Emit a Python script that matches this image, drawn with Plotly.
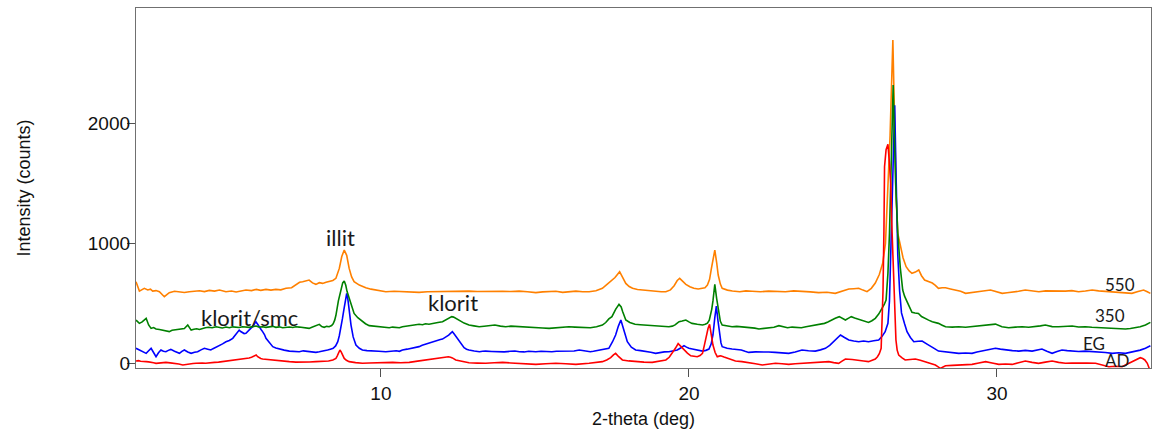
import plotly.graph_objects as go

# --- data (2-theta in deg, intensity in counts) ---
s550 = [(2.05,680),(2.16,602),(2.32,625),(2.43,611),(2.52,618),(2.59,602),(2.70,606),(2.81,597),(2.97,555),(3.05,575),(3.13,589),(3.30,600),(3.46,597),(3.62,590),(3.78,597),(3.95,602),(4.11,605),(4.27,598),(4.43,608),(4.60,602),(4.76,611),(4.97,597),(5.15,603),(5.30,594),(5.46,600),(5.62,611),(5.80,606),(5.95,616),(6.10,608),(6.27,616),(6.43,610),(6.59,616),(6.75,612),(6.92,625),(7.10,630),(7.24,652),(7.36,675),(7.46,680),(7.57,690),(7.67,694),(7.78,670),(7.89,658),(8.00,672),(8.11,666),(8.22,676),(8.32,680),(8.44,690),(8.54,708),(8.65,791),(8.73,890),(8.81,944),(8.89,900),(8.97,791),(9.05,720),(9.13,680),(9.30,652),(9.40,640),(9.51,630),(9.68,618),(9.84,611),(10.00,604),(10.16,597),(10.43,600),(10.70,597),(10.97,594),(11.24,591),(11.51,596),(11.78,597),(12.05,600),(12.32,597),(12.59,604),(12.86,602),(13.13,598),(13.40,600),(13.68,596),(13.95,600),(14.22,598),(14.49,602),(14.76,596),(15.03,589),(15.25,595),(15.46,597),(15.68,600),(15.90,591),(16.11,598),(16.33,602),(16.55,596),(16.76,597),(16.98,605),(17.19,625),(17.35,660),(17.46,686),(17.60,715),(17.75,764),(17.85,720),(17.95,666),(18.06,640),(18.17,625),(18.33,615),(18.49,611),(18.70,604),(18.92,602),(19.10,596),(19.25,597),(19.40,612),(19.52,647),(19.62,690),(19.70,708),(19.80,680),(19.90,658),(20.03,638),(20.16,625),(20.30,620),(20.44,625),(20.52,630),(20.60,652),(20.67,700),(20.73,791),(20.79,890),(20.84,944),(20.90,840),(20.95,736),(21.02,660),(21.08,625),(21.25,610),(21.41,602),(21.65,597),(21.85,604),(22.05,600),(22.32,596),(22.59,602),(22.86,598),(23.13,597),(23.40,604),(23.67,602),(23.94,595),(24.21,589),(24.48,592),(24.75,583),(24.97,600),(25.19,619),(25.35,622),(25.51,625),(25.65,610),(25.78,597),(25.92,625),(26.05,669),(26.18,740),(26.29,835),(26.38,1000),(26.45,1361),(26.53,1900),(26.62,2694),(26.68,2000),(26.73,1361),(26.78,1083),(26.86,986),(26.95,880),(27.05,805),(27.15,770),(27.24,750),(27.35,760),(27.46,778),(27.55,730),(27.65,694),(27.78,680),(27.90,669),(28.00,650),(28.10,625),(28.22,630),(28.33,630),(28.49,620),(28.65,611),(28.82,600),(28.98,583),(29.14,590),(29.30,597),(29.55,603),(29.79,611),(29.98,595),(30.17,583),(30.33,588),(30.49,591),(30.70,600),(30.92,611),(31.14,602),(31.36,597),(31.58,604),(31.79,602),(32.00,598),(32.22,602),(32.43,606),(32.65,597),(32.87,602),(33.09,611),(33.30,604),(33.52,600),(33.74,596),(33.95,597),(34.17,592),(34.38,583),(34.58,598),(34.76,611),(34.88,596),(34.98,583)]

s350 = [(2.05,361),(2.16,333),(2.25,345),(2.38,375),(2.46,320),(2.54,291),(2.62,298),(2.70,286),(2.81,282),(2.92,277),(3.02,272),(3.13,264),(3.22,276),(3.30,280),(3.46,286),(3.62,290),(3.73,319),(3.84,277),(3.93,284),(4.02,288),(4.11,282),(4.21,291),(4.30,296),(4.40,300),(4.52,296),(4.65,305),(4.75,300),(4.85,295),(4.97,302),(5.08,297),(5.19,304),(5.30,302),(5.40,298),(5.51,305),(5.62,302),(5.73,300),(5.84,306),(5.95,311),(6.05,302),(6.16,305),(6.27,300),(6.38,305),(6.49,308),(6.59,300),(6.70,304),(6.81,297),(6.92,302),(7.03,303),(7.14,299),(7.24,305),(7.35,302),(7.46,298),(7.56,300),(7.67,291),(7.76,300),(7.85,310),(8.00,325),(8.08,306),(8.16,300),(8.24,308),(8.32,305),(8.40,315),(8.45,330),(8.50,360),(8.54,400),(8.62,520),(8.70,620),(8.76,670),(8.81,686),(8.86,650),(8.90,600),(8.97,541),(9.05,470),(9.13,416),(9.25,380),(9.40,347),(9.50,330),(9.62,314),(9.78,310),(9.95,305),(10.10,300),(10.27,297),(10.38,302),(10.50,300),(10.60,296),(10.70,305),(10.85,310),(11.00,315),(11.12,320),(11.24,325),(11.35,322),(11.45,330),(11.56,326),(11.67,333),(11.76,338),(11.85,340),(12.00,347),(12.08,358),(12.15,370),(12.22,380),(12.30,389),(12.36,385),(12.42,375),(12.54,361),(12.62,348),(12.70,335),(12.78,328),(12.86,319),(13.02,312),(13.19,305),(13.35,309),(13.50,312),(13.60,316),(13.70,319),(13.88,310),(14.05,305),(14.22,310),(14.40,308),(14.55,304),(14.70,300),(14.86,304),(15.03,297),(15.25,294),(15.46,291),(15.68,297),(15.90,300),(16.10,305),(16.30,302),(16.50,300),(16.65,304),(16.80,297),(17.00,305),(17.19,319),(17.30,340),(17.40,370),(17.50,389),(17.62,450),(17.73,491),(17.80,470),(17.85,430),(17.95,361),(18.08,340),(18.25,325),(18.42,322),(18.60,319),(18.75,316),(18.90,315),(19.12,310),(19.35,305),(19.46,310),(19.55,320),(19.62,335),(19.68,347),(19.78,352),(19.90,361),(20.00,345),(20.10,333),(20.27,325),(20.44,319),(20.53,325),(20.60,335),(20.66,360),(20.70,403),(20.74,450),(20.78,520),(20.84,658),(20.90,540),(20.96,430),(21.02,350),(21.08,319),(21.24,312),(21.40,305),(21.55,308),(21.70,305),(21.85,302),(22.00,300),(22.14,293),(22.27,286),(22.44,290),(22.60,295),(22.76,300),(22.92,314),(23.06,305),(23.20,297),(23.35,302),(23.50,300),(23.65,296),(23.80,305),(23.95,312),(24.10,325),(24.25,330),(24.40,333),(24.51,345),(24.62,361),(24.75,375),(24.88,389),(24.98,375),(25.08,361),(25.17,375),(25.27,389),(25.38,377),(25.51,366),(25.67,355),(25.83,341),(25.94,355),(26.05,375),(26.16,410),(26.27,458),(26.34,490),(26.40,527),(26.46,750),(26.51,1083),(26.57,1700),(26.63,2319),(26.67,1900),(26.71,1500),(26.78,1083),(26.86,800),(26.94,611),(27.00,560),(27.08,514),(27.16,470),(27.24,425),(27.34,420),(27.45,416),(27.55,390),(27.65,375),(27.78,360),(27.90,347),(28.00,340),(28.10,333),(28.22,318),(28.33,305),(28.55,302),(28.76,305),(28.98,300),(29.19,305),(29.35,310),(29.52,314),(29.74,320),(29.95,327),(30.16,305),(30.38,297),(30.60,302),(30.82,305),(31.03,300),(31.25,305),(31.41,312),(31.57,319),(31.79,306),(32.00,305),(32.22,308),(32.44,311),(32.65,303),(32.87,305),(33.08,300),(33.30,297),(33.52,295),(33.74,291),(33.95,288),(34.17,286),(34.33,290),(34.49,297),(34.65,305),(34.82,319),(34.98,341)]

sEG = [(2.05,125),(2.16,111),(2.25,95),(2.38,83),(2.46,105),(2.54,125),(2.62,90),(2.70,55),(2.78,88),(2.86,111),(2.94,100),(3.02,97),(3.10,108),(3.18,116),(3.30,100),(3.38,92),(3.46,83),(3.54,100),(3.62,111),(3.73,95),(3.84,83),(3.95,92),(4.05,97),(4.16,112),(4.27,125),(4.38,118),(4.48,111),(4.55,122),(4.62,130),(4.70,145),(4.76,152),(4.86,162),(4.97,180),(5.08,190),(5.19,208),(5.25,225),(5.30,240),(5.36,262),(5.40,277),(5.45,265),(5.50,255),(5.56,248),(5.62,250),(5.68,268),(5.73,280),(5.79,295),(5.84,305),(5.89,330),(5.94,347),(6.00,325),(6.05,300),(6.11,282),(6.16,264),(6.22,240),(6.27,208),(6.32,190),(6.38,170),(6.43,150),(6.49,139),(6.59,128),(6.70,119),(6.86,110),(7.03,102),(7.19,100),(7.35,97),(7.48,104),(7.60,100),(7.74,95),(7.89,91),(8.00,96),(8.10,100),(8.18,105),(8.27,111),(8.36,118),(8.45,125),(8.53,145),(8.60,180),(8.65,230),(8.70,291),(8.75,370),(8.80,450),(8.85,540),(8.89,583),(8.93,530),(8.96,450),(9.00,380),(9.03,319),(9.10,220),(9.19,152),(9.30,125),(9.40,111),(9.55,106),(9.70,102),(9.93,100),(10.16,97),(10.33,102),(10.50,105),(10.60,100),(10.70,111),(10.85,118),(11.00,125),(11.12,132),(11.24,139),(11.34,150),(11.45,160),(11.56,170),(11.67,180),(11.76,188),(11.85,195),(11.93,198),(12.00,202),(12.10,215),(12.20,235),(12.26,250),(12.32,264),(12.38,245),(12.45,220),(12.50,200),(12.54,180),(12.62,150),(12.70,130),(12.78,118),(12.86,111),(13.03,103),(13.20,97),(13.30,100),(13.40,102),(13.60,99),(13.80,97),(14.00,95),(14.20,100),(14.35,103),(14.50,97),(14.65,95),(14.80,100),(14.92,98),(15.03,97),(15.20,100),(15.40,97),(15.55,96),(15.70,100),(15.90,102),(16.10,105),(16.27,103),(16.44,111),(16.62,102),(16.80,97),(16.90,100),(17.00,105),(17.20,112),(17.40,125),(17.52,180),(17.62,236),(17.71,310),(17.79,361),(17.86,300),(17.92,250),(18.00,180),(18.13,135),(18.27,111),(18.43,106),(18.60,102),(18.76,92),(18.92,83),(19.06,90),(19.20,95),(19.35,97),(19.48,104),(19.62,111),(19.73,128),(19.84,147),(19.92,135),(20.00,125),(20.11,119),(20.27,110),(20.44,102),(20.55,108),(20.65,119),(20.72,160),(20.78,236),(20.84,380),(20.89,477),(20.94,360),(20.99,236),(21.04,170),(21.08,139),(21.24,125),(21.40,119),(21.55,115),(21.70,111),(21.82,100),(21.94,91),(22.16,95),(22.38,97),(22.59,94),(22.80,91),(23.02,88),(23.24,83),(23.45,95),(23.67,111),(23.88,105),(24.10,102),(24.27,112),(24.43,125),(24.57,150),(24.70,180),(24.81,210),(24.92,236),(25.05,215),(25.19,194),(25.35,186),(25.51,180),(25.67,186),(25.83,180),(26.00,188),(26.16,194),(26.27,225),(26.37,264),(26.46,333),(26.51,520),(26.55,900),(26.62,1600),(26.68,2150),(26.73,1500),(26.78,900),(26.84,600),(26.90,420),(27.00,330),(27.08,264),(27.19,215),(27.30,180),(27.44,184),(27.57,186),(27.73,160),(27.89,139),(28.00,118),(28.10,102),(28.22,99),(28.33,97),(28.55,90),(28.76,83),(28.98,86),(29.19,83),(29.35,95),(29.52,102),(29.74,115),(29.95,125),(30.11,118),(30.28,111),(30.50,106),(30.71,102),(30.92,108),(31.14,102),(31.30,110),(31.46,119),(31.62,100),(31.79,83),(31.95,98),(32.11,111),(32.28,106),(32.44,102),(32.65,98),(32.87,102),(33.08,100),(33.30,97),(33.52,90),(33.74,83),(33.95,88),(34.17,83),(34.33,90),(34.49,97),(34.65,110),(34.82,125),(34.98,147)]

sAD = [(2.05,19),(2.13,22),(2.20,17),(2.29,18),(2.38,14),(2.46,12),(2.55,10),(2.62,5),(2.70,0),(2.80,4),(2.90,5),(2.96,10),(3.02,8),(3.16,4),(3.30,0),(3.44,-6),(3.57,-14),(3.68,-8),(3.80,-5),(3.90,-2),(4.00,0),(4.10,4),(4.20,3),(4.31,0),(4.43,5),(4.52,6),(4.60,8),(4.73,10),(4.86,14),(4.98,17),(5.10,20),(5.20,24),(5.30,28),(5.46,34),(5.62,41),(5.72,45),(5.80,50),(5.88,58),(5.95,69),(6.00,55),(6.05,45),(6.10,40),(6.16,36),(6.38,32),(6.59,28),(6.81,20),(7.03,14),(7.24,10),(7.46,8),(7.68,11),(7.89,14),(8.10,17),(8.30,19),(8.44,28),(8.54,41),(8.58,60),(8.62,80),(8.67,111),(8.71,95),(8.75,70),(8.81,41),(8.88,25),(8.97,14),(9.18,6),(9.40,0),(9.62,3),(9.84,5),(10.11,6),(10.38,8),(10.65,5),(10.92,8),(11.19,18),(11.46,28),(11.67,34),(11.89,41),(12.05,48),(12.19,55),(12.26,50),(12.32,45),(12.43,28),(12.64,15),(12.86,5),(13.13,2),(13.40,0),(13.68,5),(13.95,8),(14.22,3),(14.49,0),(14.76,-5),(15.03,-9),(15.35,-3),(15.68,0),(16.00,-4),(16.33,-9),(16.76,0),(17.19,14),(17.33,28),(17.46,47),(17.55,70),(17.62,83),(17.72,55),(17.84,28),(18.05,20),(18.27,14),(18.54,10),(18.81,8),(19.03,15),(19.25,28),(19.36,50),(19.46,83),(19.56,125),(19.65,164),(19.74,140),(19.84,111),(19.95,85),(20.06,63),(20.17,58),(20.27,55),(20.36,65),(20.44,83),(20.50,150),(20.56,236),(20.62,290),(20.67,325),(20.72,250),(20.78,152),(20.85,90),(20.92,55),(20.98,60),(21.03,63),(21.14,52),(21.25,41),(21.38,30),(21.51,19),(21.72,14),(21.94,8),(22.16,-3),(22.38,-14),(22.60,-6),(22.81,0),(23.02,-4),(23.24,-9),(23.45,-4),(23.67,0),(23.88,4),(24.10,8),(24.32,10),(24.54,14),(24.70,6),(24.86,0),(24.97,18),(25.08,36),(25.30,32),(25.51,28),(25.67,20),(25.83,14),(25.94,25),(26.05,36),(26.12,55),(26.18,80),(26.24,125),(26.27,300),(26.30,600),(26.33,1100),(26.35,1638),(26.40,1780),(26.46,1825),(26.50,1700),(26.55,1500),(26.58,1200),(26.62,900),(26.67,500),(26.72,194),(26.76,110),(26.81,69),(26.92,45),(27.02,28),(27.18,32),(27.35,36),(27.51,25),(27.67,14),(27.84,0),(28.00,-14),(28.08,-28),(28.16,-42),(28.25,-30),(28.33,-20),(28.55,-17),(28.76,-14),(28.98,-12),(29.19,-9),(29.41,2),(29.63,14),(29.84,3),(30.06,-9),(30.28,-6),(30.49,-9),(30.70,5),(30.92,19),(31.14,8),(31.35,0),(31.57,10),(31.79,19),(32.00,8),(32.22,0),(32.43,3),(32.65,0),(32.92,2),(33.20,0),(33.41,-14),(33.63,-28),(33.85,-25),(34.06,-28),(34.22,-8),(34.38,14),(34.52,30),(34.65,47),(34.73,40),(34.80,28),(34.88,0),(34.95,-47)]

series_names = ["550", "EG", "350", "AD"]
series_data = [s550, sEG, s350, sAD]
series_colors = ["#FF8000", "#0000FF", "#008000", "#FF0000"]

end_labels = ["550", "350", "EG", "AD"]
end_label_x = [33.98, 33.68, 33.14, 33.91]
end_label_y = [658, 397, 167, 27]

peak_labels = ["illit", "klorit/smc", "klorit"]
peak_label_x = [8.70, 5.72, 12.34]
peak_label_y = [1052, 386, 503]

x_ticks = [10, 20, 30]
y_ticks = [0, 1000, 2000]

fig = go.Figure()
for name, pts, col in zip(series_names, series_data, series_colors):
    fig.add_trace(go.Scatter(
        x=[p[0] for p in pts], y=[p[1] for p in pts],
        mode="lines", name=name,
        line=dict(color=col, width=1.6),
        hoverinfo="skip",
    ))

for t, x, y in zip(end_labels, end_label_x, end_label_y):
    fig.add_annotation(x=x, y=y, text=t, showarrow=False,
                       font=dict(family="Lato", size=17, color="#1a1a1a"))
for t, x, y in zip(peak_labels, peak_label_x, peak_label_y):
    fig.add_annotation(x=x, y=y, text=t, showarrow=False,
                       font=dict(family="Lato", size=22, color="#1a1a1a"))

axis_common = dict(
    showgrid=False, zeroline=False, showline=True, linecolor="#707070",
    linewidth=1.3, mirror=True, ticks="outside", ticklen=8, tickwidth=1.2,
    tickcolor="#505050", automargin=False,
    tickfont=dict(family="Liberation Sans, Arial", size=19, color="#111"),
)

fig.update_layout(
    width=1152, height=437,
    margin=dict(l=136, r=1, t=8, b=69),
    paper_bgcolor="white", plot_bgcolor="white",
    showlegend=False, hovermode=False,
    xaxis=dict(axis_common, range=[2.05, 35.0], tickvals=x_ticks,
               title=dict(text="2-theta (deg)", standoff=9,
                          font=dict(family="Liberation Sans, Arial", size=18, color="#111"))),
    yaxis=dict(axis_common, range=[-39, 2961], tickvals=y_ticks,
               ticklabelstandoff=-7,
               title=dict(text="Intensity (counts)", standoff=52,
                          font=dict(family="Liberation Sans, Arial", size=18, color="#111"))),
)

fig.write_html(
    "out.html",
    config={"displayModeBar": False},
    post_script="document.body.style.margin='0';document.body.style.overflow='hidden';",
)
